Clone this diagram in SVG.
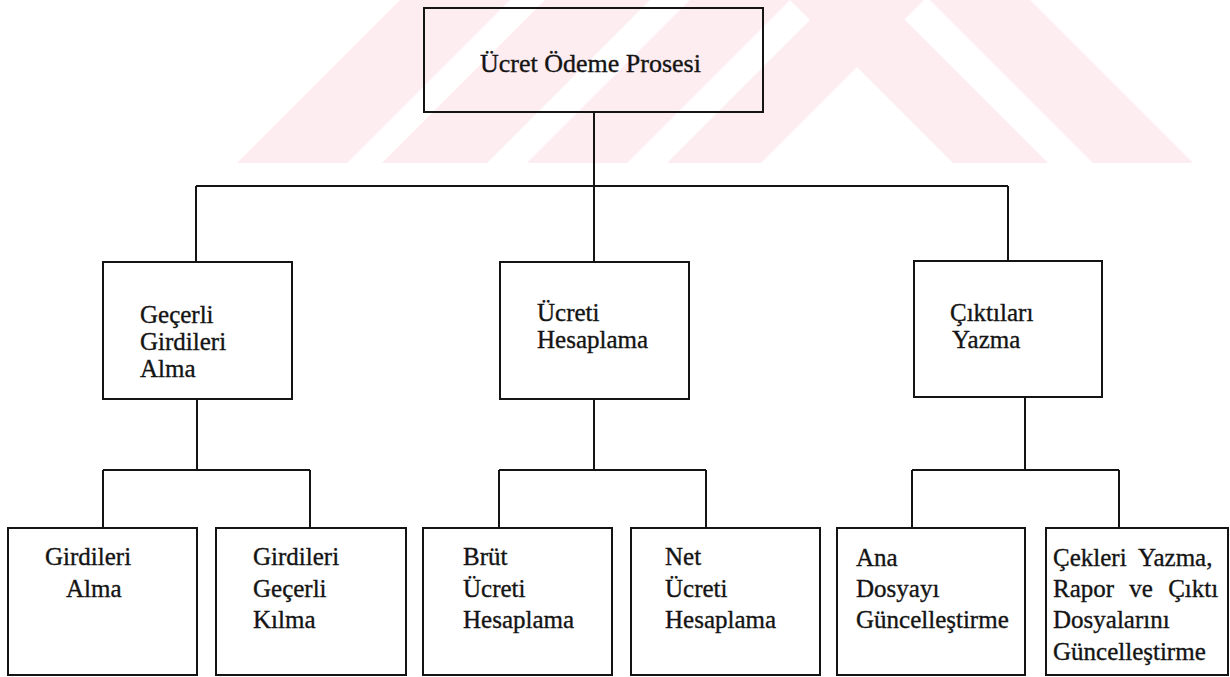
<svg xmlns="http://www.w3.org/2000/svg" width="1230" height="677" viewBox="0 0 1230 677">
  <style>
    .wm { fill: #fdecf0; }
    .box { fill: none; stroke: #141414; stroke-width: 2; }
    .wire { fill: none; stroke: #141414; stroke-width: 2; }
    .lbl { font-family: "Liberation Serif", "Times New Roman", serif; font-size: 25px; fill: #141414; stroke: #141414; stroke-width: 0.35; }
    .title { font-size: 26px; }
  </style>

  <rect x="0" y="0" width="1230" height="677" fill="#ffffff"/>

  <!-- faint striped chevron in the header band -->
  <g id="header-mark">
    <polygon class="wm" points="400,0 510,0 347,163 237,163"/>
    <polygon class="wm" points="545,0 650,0 487,163 382,163"/>
    <polygon class="wm" points="690,0 790,0 627,163 527,163"/>
    <polygon class="wm" points="830,0 924,0 761,163 667,163"/>
    <polygon class="wm" points="790,0 885,0 1048,163 953,163"/>
    <polygon class="wm" points="930,0 1030,0 1193,163 1093,163"/>
  </g>

  <!-- tree connectors -->
  <g id="connectors">
    <path class="wire" d="M594,112 V186 M196,186 H1008 M196,186 V262 M594,186 V262 M1008,186 V261"/>
    <path class="wire" d="M197,399 V470 M103,470 H310 M103,470 V528 M310,470 V528"/>
    <path class="wire" d="M594,399 V470 M499,470 H706 M499,470 V528 M706,470 V528"/>
    <path class="wire" d="M1025,397 V470 M912,470 H1119 M912,470 V528 M1119,470 V528"/>
  </g>

  <g id="root">
    <rect class="box" x="424" y="8" width="339" height="104"/>
    <text class="lbl title" x="480" y="72">Ücret Ödeme Prosesi</text>
  </g>

  <g id="gecerli-girdileri-alma">
    <rect class="box" x="103" y="262" width="189" height="137"/>
    <text class="lbl" x="140" y="323">Geçerli</text>
    <text class="lbl" x="140" y="350">Girdileri</text>
    <text class="lbl" x="140" y="377">Alma</text>
  </g>

  <g id="ucreti-hesaplama">
    <rect class="box" x="500" y="262" width="189" height="137"/>
    <text class="lbl" x="537" y="321">Ücreti</text>
    <text class="lbl" x="537" y="348">Hesaplama</text>
  </g>

  <g id="ciktilari-yazma">
    <rect class="box" x="914" y="261" width="188" height="136"/>
    <text class="lbl" x="950" y="321">Çıktıları</text>
    <text class="lbl" x="952" y="348">Yazma</text>
  </g>

  <g id="girdileri-alma">
    <rect class="box" x="8" y="528" width="189" height="147"/>
    <text class="lbl" x="45" y="565">Girdileri</text>
    <text class="lbl" x="66" y="597">Alma</text>
  </g>

  <g id="girdileri-gecerli-kilma">
    <rect class="box" x="216" y="528" width="190" height="147"/>
    <text class="lbl" x="253" y="565">Girdileri</text>
    <text class="lbl" x="253" y="597">Geçerli</text>
    <text class="lbl" x="253" y="628">Kılma</text>
  </g>

  <g id="brut-ucreti-hesaplama">
    <rect class="box" x="423" y="528" width="189" height="147"/>
    <text class="lbl" x="463" y="565">Brüt</text>
    <text class="lbl" x="463" y="597">Ücreti</text>
    <text class="lbl" x="463" y="628">Hesaplama</text>
  </g>

  <g id="net-ucreti-hesaplama">
    <rect class="box" x="631" y="528" width="189" height="147"/>
    <text class="lbl" x="665" y="565">Net</text>
    <text class="lbl" x="665" y="597">Ücreti</text>
    <text class="lbl" x="665" y="628">Hesaplama</text>
  </g>

  <g id="ana-dosyayi-guncellestirme">
    <rect class="box" x="837" y="528" width="188" height="147"/>
    <text class="lbl" x="856" y="566">Ana</text>
    <text class="lbl" x="856" y="597">Dosyayı</text>
    <text class="lbl" x="856" y="628">Güncelleştirme</text>
  </g>

  <g id="cekleri-yazma">
    <rect class="box" x="1046" y="528" width="182" height="147"/>
    <text class="lbl" x="1053" y="566" word-spacing="6">Çekleri Yazma,</text>
    <text class="lbl" x="1053" y="597" word-spacing="9">Rapor ve Çıktı</text>
    <text class="lbl" x="1053" y="628">Dosyalarını</text>
    <text class="lbl" x="1053" y="660">Güncelleştirme</text>
  </g>
</svg>
